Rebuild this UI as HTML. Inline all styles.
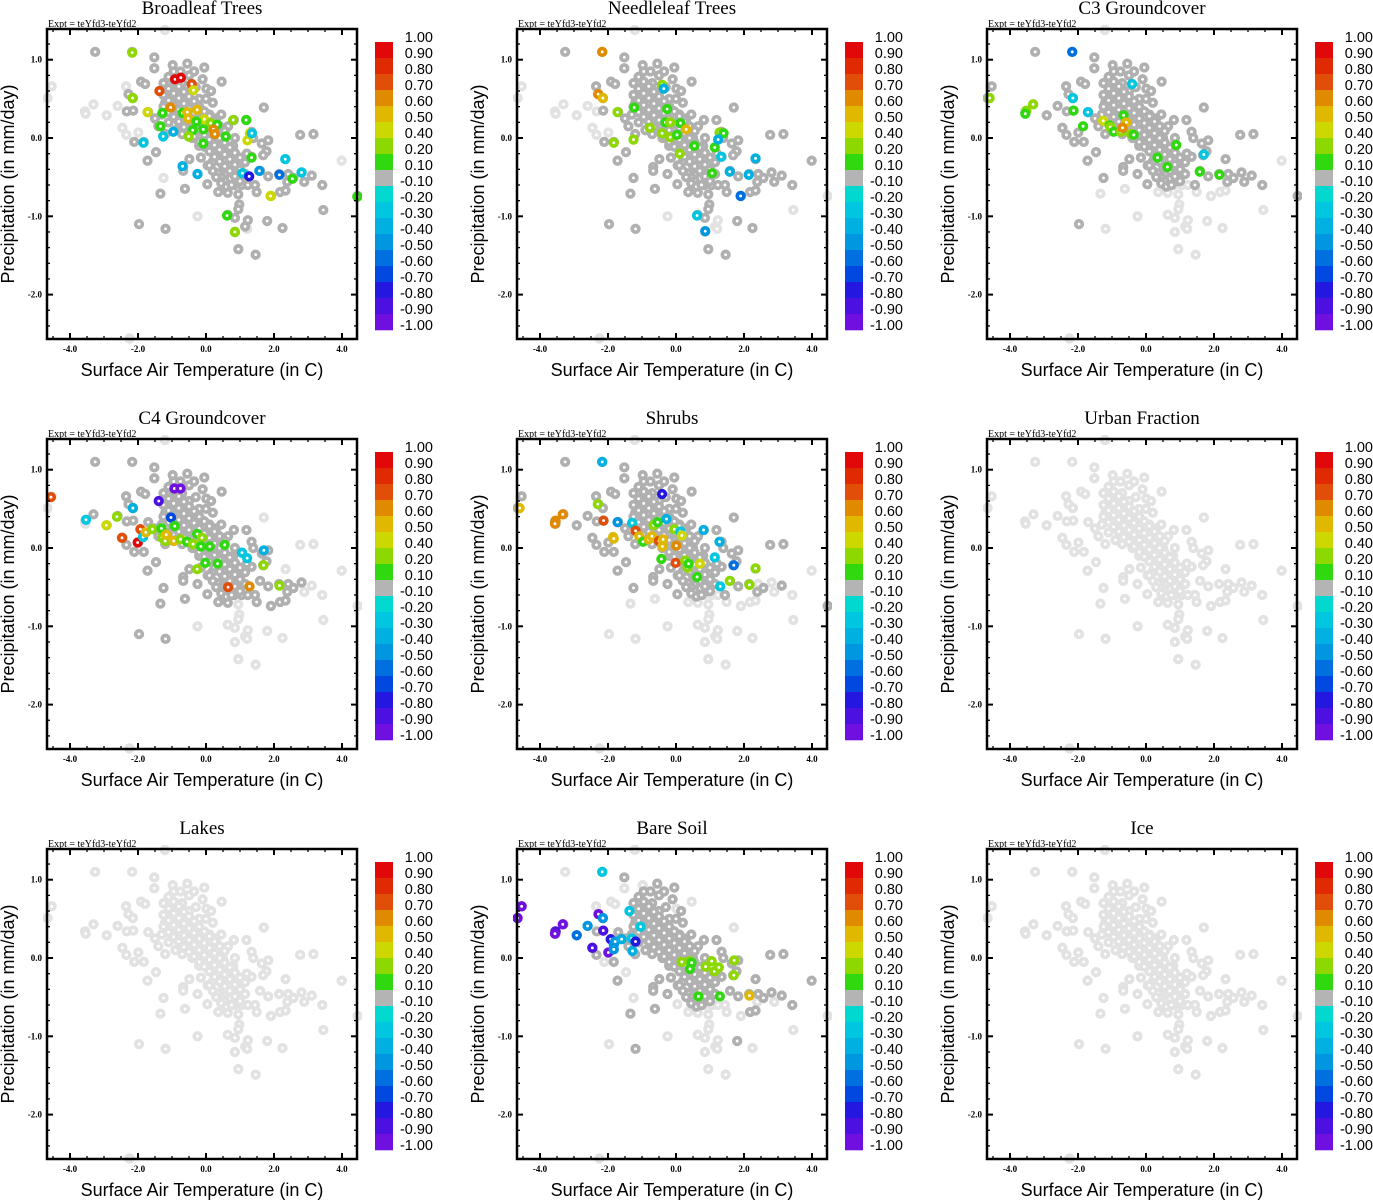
<!DOCTYPE html>
<html><head><meta charset="utf-8">
<style>
html,body{margin:0;padding:0;background:#fff;}
svg{display:block;}
.ttl{font-family:"Liberation Serif",serif;font-size:19px;}
.expt{font-family:"Liberation Serif",serif;font-size:10px;}
.tick{font-family:"Liberation Serif",serif;font-size:9px;font-weight:bold;}
.axt{font-family:"Liberation Sans",sans-serif;font-size:18px;}
.cbl{font-family:"Liberation Sans",sans-serif;font-size:14.5px;}
</style></head>
<body>
<svg id="chart" width="1373" height="1200" viewBox="0 0 1373 1200" xmlns="http://www.w3.org/2000/svg"></svg>
<script>
// ---- data ----
const panelTitles = ["Broadleaf Trees","Needleleaf Trees","C3 Groundcover","C4 Groundcover","Shrubs","Urban Fraction","Lakes","Bare Soil","Ice"];
const xTicks = [-4,-2,0,2,4];
const xTickLabels = ["-4.0","-2.0","0.0","2.0","4.0"];
const yTicks = [1,0,-1,-2];
const yTickLabels = ["1.0","0.0","-1.0","-2.0"];
const cbBounds = [1,0.9,0.8,0.7,0.6,0.5,0.4,0.2,0.1,-0.1,-0.2,-0.3,-0.4,-0.5,-0.6,-0.7,-0.8,-0.9,-1.0];
const cbLabels = ["1.00","0.90","0.80","0.70","0.60","0.50","0.40","0.20","0.10","-0.10","-0.20","-0.30","-0.40","-0.50","-0.60","-0.70","-0.80","-0.90","-1.00"];
const cbColors = ["#e00808","#e02a04","#e04e0a","#e08a00","#e0b800","#ccd800","#8cd800","#30d810","#b4b4b4","#00d8d0","#00c6e0","#00b0e0","#0096e0","#0070e0","#0048e0","#2418e0","#4c10e0","#7010e0"];
// base point cloud (temperature, precipitation)
const baseX = [-3.26,-2.17,-1.52,-1.52,-0.98,-4.54,-4.66,-2.35,-2.28,-2.15,-1.91,-1.79,-3.31,-3.56,-3.54,-2.92,-2.60,-2.33,-2.14,-2.46,-2.34,-2.11,-1.83,-1.99,-1.70,-1.47,-1.72,-1.25,-1.34,-0.62,-0.25,-1.97,-1.19,0.46,0.01,1.70,0.82,1.19,1.34,1.39,1.64,1.83,1.78,1.68,1.34,2.34,2.77,3.16,3.99,1.59,1.83,2.15,2.42,2.57,2.81,3.11,2.89,3.42,2.39,1.91,2.18,2.34,3.45,4.46,1.49,1.44,1.05,1.23,0.83,0.95,0.98,0.95,0.36,0.64,0.04,-0.25,-0.67,-0.67,-0.49,0.64,0.85,1.23,1.15,1.21,0.85,1.80,2.25,0.95,1.46,-1.21,-2.25,
-1.4,-1.3,-1.2,-1.1,-1.0,-1.0,-0.9,-0.9,-0.8,-0.8,-0.7,-0.7,-0.6,-0.6,-0.5,-0.5,-0.5,-0.4,-0.4,-0.3,-0.3,-0.2,-0.2,-0.2,-0.1,-0.1,0.0,0.0,0.0,0.1,0.1,0.2,0.2,0.2,0.3,0.3,0.4,0.4,0.5,0.5,0.6,0.6,0.7,0.8,0.8,0.9,1.0,1.1,1.2,-0.95,-0.55,-0.75,0.05,-0.15,0.35,0.55,0.7,0.45,-0.35,-1.2,-1.5,-0.65,0.25,0.15,-0.05,0.65,0.85,
-1.25,-1.25,-1.25,-1.1,-1.1,-1.1,-1.1,-0.95,-0.95,-0.95,-0.95,-0.8,-0.8,-0.8,-0.8,-0.65,-0.65,-0.65,-0.65,-0.5,-0.5,-0.5,-0.5,-0.35,-0.35,-0.35,-0.35,-0.2,-0.2,-0.2,-0.2,-0.05,-0.05,-0.05,-0.05,0.1,0.1,0.1,0.1,0.25,0.25,0.25,0.25,0.4,0.4,0.4,0.4,0.55,0.55,0.55,0.55,0.7,0.7,0.7,0.85,0.85,0.85,1.0,1.0,1.0,1.15,1.15,0.3,0.45,0.6,0.75,0.2,0.1];
const baseY = [1.10,1.10,1.03,0.89,0.93,0.66,0.51,0.66,0.56,0.51,0.72,0.69,0.43,0.34,0.31,0.29,0.41,0.34,0.35,0.13,0.04,-0.05,-0.05,0.07,0.33,-0.18,-0.29,-0.51,-0.71,-0.65,-1.00,-1.10,-1.16,0.72,0.63,0.39,0.23,0.23,0.08,0.00,-0.07,-0.03,-0.17,-0.22,-0.24,-0.27,0.04,0.05,-0.29,-0.42,-0.49,-0.46,-0.46,-0.51,-0.44,-0.48,-0.56,-0.60,-0.56,-0.74,-0.69,-0.67,-0.92,-0.74,-0.69,-0.60,-0.60,-0.60,-0.60,-0.72,-0.85,-0.91,-0.69,-0.70,-0.59,-0.46,-0.37,-0.42,-0.27,-0.98,-1.02,-1.05,-1.13,-1.16,-1.20,-1.06,-1.15,-1.42,-1.49,1.38,-2.56,
0.15,0.3,0.45,0.2,0.35,0.55,0.6,0.1,0.45,0.25,0.7,0.05,0.5,0.3,0.8,0.6,0.15,0.4,0.0,0.65,0.25,0.5,0.1,-0.1,0.35,0.75,0.2,0.0,0.5,0.3,-0.15,0.1,0.45,-0.3,0.25,-0.05,-0.2,0.1,-0.35,0.0,-0.1,-0.45,-0.25,-0.4,-0.1,-0.55,-0.3,-0.45,-0.2,0.85,0.95,0.85,-0.35,-0.25,-0.45,-0.55,-0.6,0.3,0.85,0.05,0.25,0.15,-0.15,0.6,0.9,0.15,0.0,
0.40,0.55,0.70,0.33,0.48,0.63,0.78,0.27,0.42,0.57,0.72,0.21,0.36,0.51,0.66,0.14,0.29,0.44,0.59,0.08,0.23,0.38,0.53,0.02,0.17,0.32,0.47,-0.05,0.10,0.25,0.40,-0.11,0.04,0.19,0.34,-0.17,-0.02,0.13,0.28,-0.24,-0.09,0.06,0.21,-0.30,-0.15,0.00,0.15,-0.36,-0.21,-0.06,0.09,-0.42,-0.27,-0.12,-0.49,-0.34,-0.19,-0.55,-0.40,-0.25,-0.46,-0.31,-0.50,-0.58,-0.62,-0.60,-0.42,-0.35];
// per-panel: indices of base points not in this category (drawn light gray); null = all light
const lightIdx1 = [5,6,7,12,13,14,15,16,19,20,23,27,30,48,83,89,90];
const lightIdx2 = [5,6,12,13,14,15,16,17,19,20,23,30,62,63,81,82,83,84,89,90];
const lightIdx3 = [12,13,14,28,29,30,32,48,59,60,61,62,64,66,67,68,69,70,71,72,73,79,80,81,82,83,84,85,86,87,88,89,90];
const lightIdx4 = [5,6,13,14,30,35,45,46,47,48,55,56,57,62,63,69,70,71,79,80,81,82,83,84,85,86,87,88,89,90];
const lightIdx5 = [28,29,30,31,32,45,48,52,54,56,57,59,60,61,62,64,66,67,68,69,70,71,72,73,79,80,81,82,83,84,85,86,87,88,89,90];
const lightIdx8 = [0,3,4,7,10,11,21,25,27,30,31,33,34,35,56,58,59,62,63,64,65,66,67,68,69,70,71,72,73,74,79,80,81,82,83,84,86,87,88,89,90];
// colored points per panel: x, y, correlation
const c1x=[-2.17,-2.16,-0.91,-0.74,-0.42,-1.37,-0.37,-1.72,-1.28,-1.04,-1.34,-1.84,-1.26,-0.96,-0.69,-0.55,-0.26,-0.52,-0.05,-0.28,0.14,0.33,0.80,1.18,0.22,0.26,-0.08,-0.39,-0.51,-0.08,0.58,1.29,1.22,1.35,1.34,-0.69,-0.25,1.07,1.27,1.57,2.16,2.33,2.81,2.54,1.90,4.45,0.62,0.85];
const c1y=[1.09,0.51,0.75,0.77,0.69,0.60,0.61,0.33,0.32,0.39,0.15,-0.06,0.02,0.08,0.32,0.33,0.36,0.25,0.24,0.21,0.19,0.17,0.23,0.23,0.11,0.05,0.11,0.10,0.02,-0.07,0.02,0.06,-0.03,0.06,-0.25,-0.36,-0.46,-0.45,-0.49,-0.42,-0.47,-0.27,-0.44,-0.52,-0.74,-0.75,-0.99,-1.20];
const c1v=[0.3,0.3,0.95,0.95,0.75,0.75,0.45,0.45,0.15,0.65,0.15,-0.25,-0.25,-0.35,0.15,0.55,0.55,0.55,0.45,0.15,0.3,0.15,0.3,0.15,0.65,0.65,0.15,0.15,0.3,0.15,0.15,0.45,0.45,-0.25,0.15,-0.3,-0.35,-0.25,-0.75,-0.4,-0.55,-0.25,-0.25,0.15,0.45,0.15,0.15,0.3];
const c2x=[-2.17,-2.29,-2.15,-1.72,-1.83,-1.23,-1.25,-0.77,-0.41,-0.36,-0.26,-0.31,-0.17,0.13,0.30,-0.41,-0.17,0.03,0.11,0.54,1.14,1.28,1.40,1.24,1.33,1.06,1.58,2.14,2.34,1.90,0.62,0.86];
const c2y=[1.10,0.56,0.51,0.33,-0.06,0.39,-0.02,0.13,0.68,0.63,0.37,0.20,0.20,0.19,0.11,0.06,0.01,0.04,-0.20,-0.10,-0.12,0.07,0.06,-0.02,-0.24,-0.45,-0.43,-0.47,-0.26,-0.74,-0.99,-1.19];
const c2v=[0.65,0.65,0.55,0.3,0.3,0.15,0.3,0.3,0.3,-0.3,0.15,0.15,0.3,0.15,0.55,0.3,0.3,0.15,0.3,0.15,0.15,0.3,0.15,-0.35,-0.25,0.15,-0.3,-0.35,-0.35,-0.55,-0.25,-0.4];
const c3x=[-2.17,-4.60,-3.32,-3.52,-3.55,-2.15,-1.71,-2.13,-1.85,-1.26,-1.07,-1.05,-0.95,-0.74,-0.66,-0.58,-0.69,-0.44,-0.36,-0.41,0.89,0.34,0.63,1.70,1.58,2.16];
const c3y=[1.10,0.51,0.43,0.35,0.31,0.51,0.33,0.35,0.15,0.22,0.16,0.14,0.08,0.08,0.29,0.20,0.13,0.05,0.04,0.69,-0.09,-0.25,-0.37,-0.21,-0.43,-0.47];
const c3v=[-0.5,0.3,0.3,0.3,0.15,-0.25,-0.25,0.15,0.15,0.45,0.15,0.3,0.15,0.3,0.15,0.55,0.7,0.3,0.15,-0.25,0.15,0.15,0.15,-0.25,0.15,0.15];
const c4x=[-4.56,-3.53,-2.93,-2.62,-2.15,-1.93,-2.47,-2.01,-1.85,-1.77,-1.58,-1.39,-0.93,-0.75,-1.03,-1.31,-0.92,-1.29,-1.20,-1.17,-0.95,-0.75,-0.56,-0.38,-0.26,-0.12,-0.15,0.11,0.55,-0.02,0.34,-0.26,0.65,1.28,1.06,1.21,1.70,1.69,2.16];
const c4y=[0.65,0.36,0.29,0.40,0.51,0.24,0.13,0.07,0.14,0.20,0.24,0.60,0.76,0.76,0.39,0.25,0.28,0.13,0.09,0.17,0.09,0.11,0.08,0.05,0.18,0.13,0.02,0.02,0.04,-0.19,-0.20,-0.27,-0.50,-0.49,-0.06,-0.13,-0.03,-0.22,-0.48];
const c4v=[0.75,-0.25,0.45,0.3,-0.35,0.75,0.75,0.95,-0.25,0.6,0.3,-0.8,-0.9,-0.95,-0.6,0.15,0.15,0.4,0.4,0.55,0.55,0.4,0.15,0.3,0.15,0.3,0.15,0.15,0.15,0.15,0.15,0.3,0.75,0.65,-0.25,-0.25,-0.35,0.3,0.3];
const c5x=[-4.60,-3.33,-3.54,-3.56,-2.17,-2.30,-2.13,-1.85,-1.83,-1.72,-1.29,-1.19,-1.08,-0.97,-0.80,-0.71,-0.66,-0.54,-0.41,-0.28,-0.50,-0.38,-0.40,-0.05,0.13,0.17,0.01,-0.43,-0.01,0.27,0.34,0.37,0.70,0.62,0.81,1.28,1.14,1.70,1.30,1.58,2.16,2.34];
const c5y=[0.51,0.43,0.35,0.31,1.10,0.56,0.35,0.14,0.12,0.33,0.32,0.22,0.15,0.08,0.11,0.15,0.29,0.33,0.69,0.37,0.09,0.11,0.02,0.24,0.21,0.16,0.03,-0.14,-0.19,-0.16,-0.25,-0.20,-0.20,-0.37,0.23,0.08,-0.12,-0.22,-0.49,-0.42,-0.47,-0.26];
const c5v=[0.55,0.65,0.65,0.65,-0.35,0.3,0.75,0.6,0.6,-0.45,-0.25,0.75,0.55,0.15,0.6,0.6,0.3,0.15,-0.7,-0.35,0.75,0.55,0.55,0.3,-0.25,0.45,0.65,0.15,0.75,0.3,0.3,0.15,0.45,0.15,-0.3,-0.3,-0.25,-0.5,-0.25,0.3,0.3,0.3];
const c8x=[-2.17,-4.54,-4.66,-2.28,-2.15,-1.37,-3.33,-3.54,-3.56,-2.92,-2.60,-2.14,-2.46,-1.99,-1.92,-1.83,-1.79,-1.60,-1.83,-1.30,-1.28,-1.19,-1.04,0.17,0.41,0.46,0.41,0.87,1.05,1.13,1.26,1.71,1.70,0.66,1.29,2.16];
const c8y=[1.10,0.66,0.51,0.56,0.51,0.60,0.43,0.34,0.31,0.29,0.41,0.35,0.13,0.07,0.24,0.17,0.21,0.24,0.11,0.25,0.09,0.21,0.40,-0.05,-0.04,-0.06,-0.14,-0.11,-0.04,-0.17,-0.12,-0.03,-0.22,-0.49,-0.49,-0.48];
const c8v=[-0.25,-0.95,-0.95,-0.95,-0.45,-0.25,-0.95,-0.8,-0.95,-0.5,-0.45,-0.85,-0.8,-0.95,-0.75,-0.45,-0.4,-0.3,-0.4,-0.25,-0.35,-0.7,-0.25,0.3,0.3,0.15,0.15,0.3,0.3,0.3,0.3,0.3,0.3,0.15,0.15,0.55];
const lightLists = [lightIdx1,lightIdx2,lightIdx3,lightIdx4,lightIdx5,null,null,lightIdx8,null];
const colX = [c1x,c2x,c3x,c4x,c5x,[],[],c8x,[]];
const colY = [c1y,c2y,c3y,c4y,c5y,[],[],c8y,[]];
const colV = [c1v,c2v,c3v,c4v,c5v,[],[],c8v,[]];

// ---- drawing ----
const NS = "http://www.w3.org/2000/svg";
const svg = document.getElementById("chart");
function mk(tag, attrs, parent){ const e=document.createElementNS(NS,tag); for(const k in attrs) e.setAttribute(k,attrs[k]); (parent||svg).appendChild(e); return e; }
function colorFor(v){ for(let i=0;i<cbColors.length;i++){ if(v<=cbBounds[i] && v>cbBounds[i+1]) return cbColors[i]; } return cbColors[cbColors.length-1]; }
const R = 3.3, SW = 3.7;

for(let p=0;p<9;p++){
  const ox = (p%3)*470, oy = Math.floor(p/3)*410;
  const sx = v => ox+206+34*v;
  const sy = v => oy+138-78.3*v;
  const g = mk("g",{});
  
  
  const t = mk("text",{x:ox+202,y:oy+14,"text-anchor":"middle",class:"ttl"},g); t.textContent = panelTitles[p];
  
  
  const ex = mk("text",{x:ox+48,y:oy+27,class:"expt"},g); ex.textContent = "Expt = teYfd3-teYfd2";
  
  
  const cp = mk("clipPath",{id:"cp"+p},g); mk("rect",{x:ox+43,y:oy+25,width:319,height:319},cp);
  const pts = mk("g",{"clip-path":"url(#cp"+p+")"},g);
  
  
  const ll = lightLists[p];
  const isLight = i => ll===null || ll.indexOf(i)>=0 ;
  for(let i=0;i<baseX.length;i++){ if(!isLight(i)) continue;
    const c = mk("circle",{cx:sx(baseX[i]),cy:sy(baseY[i]),r:R,fill:"#fff",stroke:"#e2e2e2","stroke-width":SW},pts);
    
    
  }
  for(let i=0;i<baseX.length;i++){ if(isLight(i)) continue;
    const c = mk("circle",{cx:sx(baseX[i]),cy:sy(baseY[i]),r:R,fill:"#fff",stroke:"#b0b0b0","stroke-width":SW},pts);
    
    
  }
  for(let i=0;i<colX[p].length;i++){
    const c = mk("circle",{cx:sx(colX[p][i]),cy:sy(colY[p][i]),r:R,fill:"#fff",stroke:colorFor(colV[p][i]),"stroke-width":SW},pts);
    
    
  }
  const fr = mk("rect",{x:ox+47,y:oy+29,width:310,height:310,fill:"none",stroke:"#000","stroke-width":2.5},g);
  
  
  for(let v=-4.5; v<=4.5; v+=0.5){
    const X=sx(v); if(X<ox+48||X>ox+356) continue;
    const major = Math.abs(v%2)<1e-6; const L = major?6:3;
    mk("line",{x1:X,x2:X,y1:oy+339,y2:oy+339-L,stroke:"#000","stroke-width":major?2:1.3},g);
    mk("line",{x1:X,x2:X,y1:oy+29,y2:oy+29+L,stroke:"#000","stroke-width":major?2:1.3},g);
  }
  for(let k=-12;k<=7;k++){
    const v=k*0.2; const Y=sy(v); if(Y<oy+30||Y>oy+338) continue;
    const major = k%5===0; const L = major?6:3;
    mk("line",{x1:ox+47,x2:ox+47+L,y1:Y,y2:Y,stroke:"#000","stroke-width":major?2:1.3},g);
    mk("line",{x1:ox+357,x2:ox+357-L,y1:Y,y2:Y,stroke:"#000","stroke-width":major?2:1.3},g);
  }
  for(let i=0;i<xTicks.length;i++){
    const tl = mk("text",{x:sx(xTicks[i]),y:oy+352,"text-anchor":"middle",class:"tick"},g); tl.textContent = xTickLabels[i];
    
    
  }
  for(let i=0;i<yTicks.length;i++){
    const tl = mk("text",{x:ox+42,y:sy(yTicks[i])+3,"text-anchor":"end",class:"tick"},g); tl.textContent = yTickLabels[i];
    
    
  }
  const xt = mk("text",{x:ox+202,y:oy+376,"text-anchor":"middle",class:"axt"},g); xt.textContent = "Surface Air Temperature (in C)";
  
  
  const yt = mk("text",{x:0,y:0,"text-anchor":"middle",class:"axt",transform:"translate("+(ox+14)+","+(oy+184)+") rotate(-90)"},g); yt.textContent = "Precipitation (in mm/day)";
  
  
  const cb = mk("g",{},g);
  
  
  for(let i=0;i<cbColors.length;i++){
    const r = mk("rect",{x:ox+375,y:oy+42+16*i,width:18,height:16.3,fill:cbColors[i]},cb);
    
    
  }
  for(let i=0;i<cbLabels.length;i++){
    const tl = mk("text",{x:ox+433,y:oy+42+16*i,"text-anchor":"end",class:"cbl"},cb); tl.textContent = cbLabels[i];
    
    
  }
}
</script>
</body></html>
